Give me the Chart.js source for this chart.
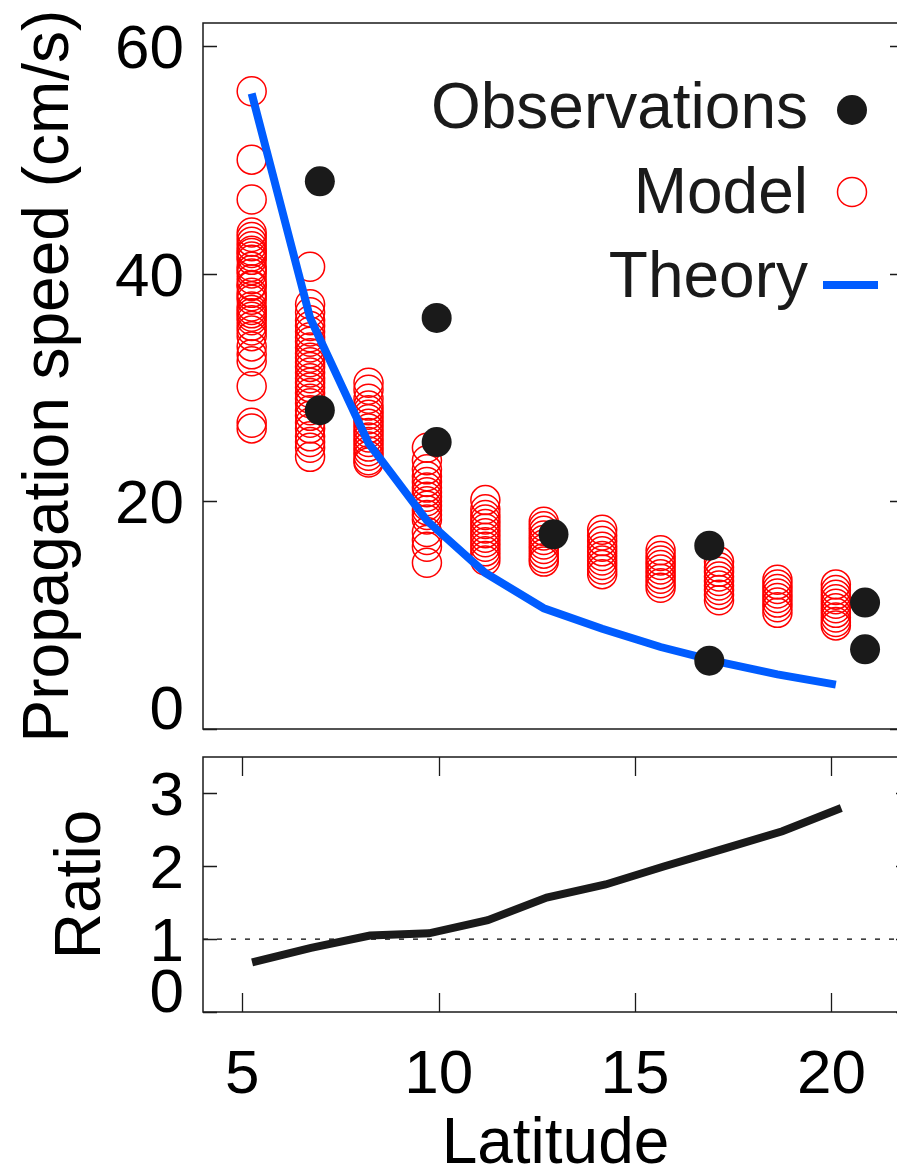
<!DOCTYPE html>
<html>
<head>
<meta charset="utf-8">
<script src="https://cdn.jsdelivr.net/npm/chart.js@4.4.0/dist/chart.umd.min.js"></script>
<style>
  html, body { margin: 0; padding: 0; background: #fff; }
  #wrap { position: relative; width: 897px; height: 1168px; overflow: hidden; }
  canvas { position: absolute; left: 0; }
  #speedChart { top: 0; }
  #ratioChart { top: 740px; }
</style>
</head>
<body>
<div id="wrap">
  <canvas id="speedChart" width="920" height="745"></canvas>
  <canvas id="ratioChart" width="920" height="428"></canvas>
</div>
<script>
// model latitudes (columns of red circles)
const latitudes = [5.25, 6.75, 8.25, 9.75, 11.25, 12.75, 14.25, 15.75, 17.25, 18.75, 20.25];

// model propagation speeds for each latitude column (cm/s)
const modelSpeeds = [
  [56.0, 50.0, 46.5, 43.6, 43.2, 42.8, 42.4, 42.0, 41.8, 41.5, 41.2, 40.6, 40.3, 40.0, 39.5, 39.0, 38.9,
   38.3, 38.0, 37.7, 37.1, 36.8, 36.5, 36.2, 35.9, 35.4, 35.0, 34.5, 33.6, 32.9, 32.3, 30.1, 26.9, 26.4],
  [40.6, 37.3, 36.6, 35.9, 35.4, 34.9, 34.4, 34.0, 33.5, 33.0, 32.6, 32.2, 31.8, 31.3, 30.8, 30.4, 30.0,
   29.5, 29.0, 28.6, 28.0, 27.5, 26.9, 26.4, 25.7, 25.2, 24.7, 23.9],
  [30.4, 29.8, 29.0, 28.4, 28.0, 27.6, 27.2, 26.8, 26.4, 26.0, 25.6, 25.2, 24.8, 24.4, 24.0, 23.6, 23.4],
  [24.7, 23.6, 22.8, 22.2, 21.7, 21.2, 20.8, 20.4, 20.0, 19.6, 19.2, 18.8, 18.4, 17.3, 16.6, 16.0, 14.6],
  [20.1, 19.3, 18.8, 18.4, 18.0, 17.6, 17.2, 16.8, 16.4, 16.0, 15.6, 15.2, 14.8],
  [18.2, 17.8, 17.4, 17.0, 16.6, 16.2, 15.8, 15.4, 15.0, 14.7],
  [17.5, 17.0, 16.5, 16.0, 15.6, 15.2, 14.8, 14.4, 14.0, 13.6],
  [15.7, 15.2, 14.8, 14.4, 14.0, 13.6, 13.2, 12.8, 12.4],
  [14.7, 14.2, 13.8, 13.4, 13.0, 12.6, 12.2, 11.8, 11.3],
  [13.1, 12.7, 12.3, 11.9, 11.5, 11.1, 10.7, 10.2],
  [12.7, 12.2, 11.8, 11.4, 11.0, 10.6, 10.2, 9.8, 9.4, 9.1]
];

// theory curve, one value per model latitude
const theorySpeed = [55.8, 36.1, 25.1, 18.3, 13.7, 10.6, 8.8, 7.2, 5.9, 4.8, 3.9];

// observations
const obsLat = [7, 7, 10, 10, 13, 17, 17, 21, 21];
const obsSpeed = [48.1, 28.0, 36.1, 25.2, 17.1, 16.1, 6.0, 11.1, 7.0];

// ratio panel
const ratio = [0.68, 0.88, 1.05, 1.08, 1.26, 1.57, 1.75, 2.0, 2.24, 2.48, 2.8];
const refLat = [4, 22];
const refRatio = [1, 1];

// ticks
const latTicks = [5, 10, 15, 20];
const speedTicks = [0, 20, 40, 60];
const ratioTicks = [0, 1, 2, 3];

const FONT = '"Liberation Sans", Arial, sans-serif';
const INK = '#1a1a1a';

// box, inward ticks and all axis text
const framePlugin = {
  id: 'frame',
  afterDatasetsDraw(chart, args, opts) {
    const { ctx, chartArea: a, scales: { x, y } } = chart;
    ctx.save();
    ctx.strokeStyle = INK;
    ctx.lineWidth = 1.5;
    ctx.strokeRect(a.left, a.top, a.right - a.left, a.bottom - a.top);

    ctx.lineWidth = 1.3;
    ctx.beginPath();
    opts.yTicks.forEach(v => {
      const py = Math.round(y.getPixelForValue(v)) + 0.5;
      ctx.moveTo(a.left, py); ctx.lineTo(a.left + opts.yLen, py);
      ctx.moveTo(a.right, py); ctx.lineTo(a.right - opts.yLen, py);
    });
    if (opts.xLen) {
      latTicks.forEach(v => {
        const px = Math.round(x.getPixelForValue(v)) + 0.5;
        ctx.moveTo(px, a.top); ctx.lineTo(px, a.top + opts.xLen);
        ctx.moveTo(px, a.bottom); ctx.lineTo(px, a.bottom - opts.xLen);
      });
    }
    ctx.stroke();

    ctx.fillStyle = '#000';
    ctx.font = '62px ' + FONT;
    ctx.textAlign = 'right';
    ctx.textBaseline = 'alphabetic';
    opts.yTicks.forEach(v => {
      const py = y.getPixelForValue(v);
      const base = v === 0 ? a.bottom : py + 22;
      ctx.fillText(String(v), opts.labelRight, base);
    });

    if (opts.xLabels) {
      ctx.textAlign = 'center';
      latTicks.forEach(v => {
        ctx.fillText(String(v), x.getPixelForValue(v), opts.xLabelBase);
      });
      ctx.font = '64px ' + FONT;
      ctx.fillText('Latitude', (a.left + a.right) / 2 - 1, opts.xTitleBase);
    }

    ctx.font = '64px ' + FONT;
    ctx.textAlign = 'center';
    ctx.translate(opts.yTitleX, (a.top + a.bottom) / 2);
    ctx.rotate(-Math.PI / 2);
    ctx.fillText(opts.yTitle, 0, 0);
    ctx.restore();
  }
};

// legend in the top right corner
const legendPlugin = {
  id: 'cornerLegend',
  afterDatasetsDraw(chart, args, opts) {
    if (!opts.show) return;
    const { ctx } = chart;
    ctx.save();
    ctx.font = '64px ' + FONT;
    ctx.fillStyle = INK;
    ctx.textAlign = 'right';
    ctx.textBaseline = 'alphabetic';
    ctx.fillText('Observations', 808, 128);
    ctx.fillText('Model', 808, 213);
    ctx.fillText('Theory', 808, 297);

    ctx.beginPath();
    ctx.arc(852, 110, 15, 0, Math.PI * 2);
    ctx.fill();

    ctx.strokeStyle = '#ff0000';
    ctx.lineWidth = 1.5;
    ctx.beginPath();
    ctx.arc(852, 192, 14.5, 0, Math.PI * 2);
    ctx.stroke();

    ctx.strokeStyle = '#005cff';
    ctx.lineWidth = 8;
    ctx.beginPath();
    ctx.moveTo(823, 285); ctx.lineTo(878, 285);
    ctx.stroke();
    ctx.restore();
  }
};

const modelPoints = [];
latitudes.forEach((lat, i) => {
  modelSpeeds[i].forEach(s => modelPoints.push({ x: lat, y: s }));
});

const commonOptions = (yMin, yMax, pad) => ({
  responsive: false,
  devicePixelRatio: 1,
  animation: false,
  layout: { padding: pad },
  events: [],
  scales: {
    x: { type: 'linear', min: 4, max: 22, display: false },
    y: { type: 'linear', min: yMin, max: yMax, display: false }
  }
});

const speedOpts = commonOptions(0, 62, { left: 203, top: 23, right: 10, bottom: 16 });
speedOpts.plugins = {
  legend: { display: false },
  tooltip: { enabled: false },
  frame: { yTicks: speedTicks, yLen: 14, xLen: 0, labelRight: 184, yTitle: 'Propagation speed (cm/s)', yTitleX: 68 },
  cornerLegend: { show: true }
};

new Chart(document.getElementById('speedChart'), {
  type: 'scatter',
  data: {
    datasets: [
      {
        label: 'Observations',
        data: obsLat.map((lat, i) => ({ x: lat, y: obsSpeed[i] })),
        pointRadius: 15,
        pointBackgroundColor: INK,
        pointBorderWidth: 0,
        order: 1
      },
      {
        label: 'Theory',
        data: latitudes.map((lat, i) => ({ x: lat, y: theorySpeed[i] })),
        showLine: true,
        borderColor: '#005cff',
        borderWidth: 8,
        pointRadius: 0,
        order: 2
      },
      {
        label: 'Model',
        data: modelPoints,
        pointRadius: 14.5,
        pointBackgroundColor: 'rgba(0,0,0,0)',
        pointBorderColor: '#ff0000',
        pointBorderWidth: 1.5,
        order: 3
      }
    ]
  },
  options: speedOpts,
  plugins: [framePlugin, legendPlugin]
});

const ratioOpts = commonOptions(0, 3.5, { left: 203, top: 17, right: 10, bottom: 156 });
ratioOpts.plugins = {
  legend: { display: false },
  tooltip: { enabled: false },
  frame: {
    yTicks: ratioTicks, yLen: 14, xLen: 19, labelRight: 184,
    xLabels: true, xLabelBase: 353, xTitleBase: 423,
    yTitle: 'Ratio', yTitleX: 100
  },
  cornerLegend: { show: false }
};

new Chart(document.getElementById('ratioChart'), {
  type: 'scatter',
  data: {
    datasets: [
      {
        label: 'Ratio',
        data: latitudes.map((lat, i) => ({ x: lat, y: ratio[i] })),
        showLine: true,
        borderColor: INK,
        borderWidth: 8,
        pointRadius: 0,
        order: 1
      },
      {
        label: 'One',
        data: refLat.map((lat, i) => ({ x: lat, y: refRatio[i] })),
        showLine: true,
        borderColor: '#000',
        borderWidth: 1.4,
        borderDash: [5, 9],
        pointRadius: 0,
        order: 2
      }
    ]
  },
  options: ratioOpts,
  plugins: [framePlugin, legendPlugin]
});
</script>
</body>
</html>
